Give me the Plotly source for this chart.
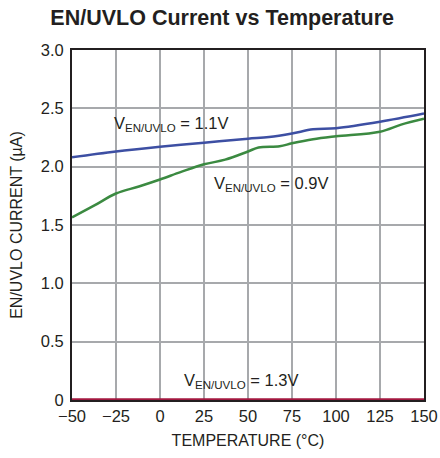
import plotly.graph_objects as go

temp_blue = [-50, -25, 0, 25, 50, 62, 75, 87, 100, 125, 150]
i_blue = [2.08, 2.13, 2.17, 2.205, 2.24, 2.255, 2.285, 2.32, 2.33, 2.385, 2.455]

temp_green = [-50, -37, -25, -12, 0, 12, 25, 37, 50, 56, 68, 75, 87, 100, 125, 137, 150]
i_green = [1.565, 1.67, 1.77, 1.83, 1.89, 1.955, 2.02, 2.06, 2.13, 2.165, 2.175, 2.2, 2.235, 2.26, 2.30, 2.36, 2.41]

temp_red = [-50, 150]
i_red = [0.0, 0.0]

x_ticks = [-50, -25, 0, 25, 50, 75, 100, 125, 150]
x_labels = ["\u221250", "\u221225", "0", "25", "50", "75", "100", "125", "150"]
y_ticks = [0, 0.5, 1.0, 1.5, 2.0, 2.5, 3.0]
y_labels = ["0", "0.5", "1.0", "1.5", "2.0", "2.5", "3.0"]

FONT = "Liberation Sans, Arial, sans-serif"
TXT = "#231f20"

fig = go.Figure()
fig.add_trace(go.Scatter(x=temp_red, y=i_red, mode="lines",
                         line=dict(color="#a3173f", width=3.5), cliponaxis=False))
fig.add_trace(go.Scatter(x=temp_green, y=i_green, mode="lines", line_shape="spline",
                         line=dict(color="#3b8a41", width=2.5)))
fig.add_trace(go.Scatter(x=temp_blue, y=i_blue, mode="lines", line_shape="spline",
                         line=dict(color="#3d4fa3", width=2.5)))

ann_font = dict(family=FONT, size=16.5, color=TXT)
fig.add_annotation(x=-27.3, y=2.37, text="V<sub>EN/UVLO</sub> = 1.1V", showarrow=False,
                   xanchor="left", yanchor="middle", font=ann_font)
fig.add_annotation(x=29.5, y=1.85, text="V<sub>EN/UVLO</sub> = 0.9V", showarrow=False,
                   xanchor="left", yanchor="middle", font=ann_font)
fig.add_annotation(x=12.5, y=0.16, text="V<sub>EN/UVLO</sub> = 1.3V", showarrow=False,
                   xanchor="left", yanchor="middle", font=ann_font)

fig.update_layout(
    width=440, height=458,
    margin=dict(l=72, r=16, t=50, b=58, autoexpand=False),
    paper_bgcolor="white", plot_bgcolor="white",
    showlegend=False,
    title=dict(text="<b>EN/UVLO Current vs Temperature</b>", x=0.505, xanchor="center",
               y=0.962, yanchor="middle",
               font=dict(family=FONT, size=21.5, color=TXT)),
    font=dict(family=FONT, color=TXT),
)
fig.update_xaxes(range=[-50, 150], tickvals=x_ticks, ticktext=x_labels, automargin=False,
                 showgrid=True, gridcolor="#a7a9ac", gridwidth=1.5,
                 showline=True, linecolor=TXT, linewidth=2, mirror=True,
                 ticks="", tickfont=dict(size=16.5), zeroline=False,
                 title=dict(text="TEMPERATURE (\u00b0C)", font=dict(size=16), standoff=11))
fig.update_yaxes(range=[0, 3.0], tickvals=y_ticks, ticktext=y_labels, automargin=False,
                 showgrid=True, gridcolor="#a7a9ac", gridwidth=1.5,
                 showline=True, linecolor=TXT, linewidth=2, mirror=True,
                 ticks="", tickfont=dict(size=16.5), zeroline=False, ticklabelstandoff=3,
                 title=dict(text="EN/UVLO CURRENT (\u00b5A)", font=dict(size=16), standoff=14))

fig.write_html("out.html", config={"displayModeBar": False},
               post_script="document.body.style.margin='0';document.body.style.overflow='hidden';")
